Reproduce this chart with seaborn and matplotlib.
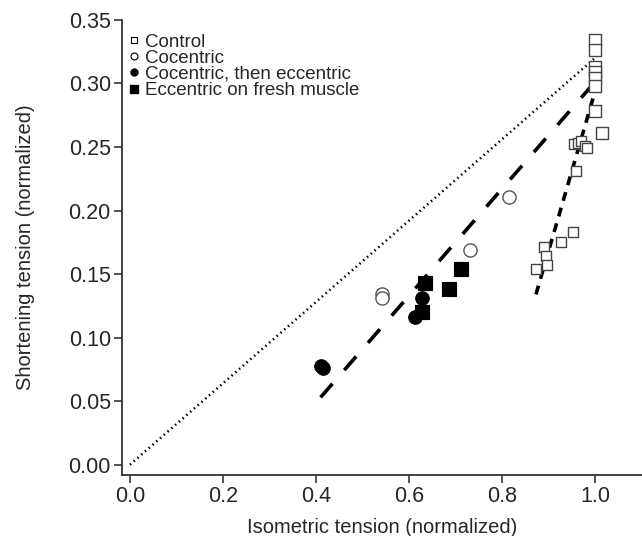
import numpy as np
import pandas as pd
import matplotlib
matplotlib.use("Agg")
import matplotlib.pyplot as plt
from matplotlib.lines import Line2D
import seaborn as sns

# data
ctrl_x = [1.000, 1.000, 1.000, 1.000, 1.000, 1.000, 1.000, 1.015, 0.955, 0.964,
          0.970, 0.979, 0.983, 0.959, 0.953, 0.927, 0.891, 0.895, 0.897, 0.873]
ctrl_y = [0.334, 0.326, 0.313, 0.309, 0.304, 0.298, 0.278, 0.261, 0.252, 0.253,
          0.255, 0.251, 0.249, 0.231, 0.183, 0.175, 0.171, 0.164, 0.157, 0.154]
conc_x = [0.815, 0.732, 0.543, 0.543]
conc_y = [0.211, 0.169, 0.134, 0.131]
conc_ecc_x = [0.411, 0.416, 0.614, 0.627]
conc_ecc_y = [0.078, 0.076, 0.116, 0.131]
fresh_x = [0.627, 0.635, 0.685, 0.712]
fresh_y = [0.120, 0.143, 0.138, 0.154]

# fitted lines (end points)
ratio_x = [0.0, 1.0]
ratio_y = [0.0, 0.32]
ecc_fit_x = [0.410, 0.990]
ecc_fit_y = [0.053, 0.297]
ctrl_fit_x = [0.873, 1.009]
ctrl_fit_y = [0.134, 0.305]

labels = ["Control", "Cocentric", "Cocentric, then eccentric", "Eccentric on fresh muscle"]

sns.set_theme(style="ticks")
plt.rcParams["font.family"] = ["Liberation Sans", "DejaVu Sans"]

fig = plt.figure(figsize=(6.42, 5.36), dpi=100)
ax = fig.add_axes([0.19, 0.114, 0.81, 0.849])

ctrl = pd.DataFrame({"x": ctrl_x, "y": ctrl_y})
big = ctrl["x"] >= 0.995
sns.scatterplot(data=ctrl[big], x="x", y="y", marker="s", s=75, facecolor="white",
                edgecolor="#444444", linewidth=1.0, ax=ax, zorder=3)
sns.scatterplot(data=ctrl[~big], x="x", y="y", marker="s", s=42, facecolor="white",
                edgecolor="#444444", linewidth=1.0, ax=ax, zorder=3)
sns.scatterplot(x=conc_x, y=conc_y, marker="o", s=90, facecolor="white",
                edgecolor="#555555", linewidth=1.0, ax=ax, zorder=3)
sns.scatterplot(x=conc_ecc_x, y=conc_ecc_y, marker="o", s=95, color="black",
                edgecolor="black", ax=ax, zorder=3)
sns.scatterplot(x=fresh_x, y=fresh_y, marker="s", s=110, color="black",
                edgecolor="black", ax=ax, zorder=3)

ax.plot(ratio_x, ratio_y, color="black", lw=1.8, linestyle=(0, (0.6, 1.4)), zorder=2)
ax.plot(ecc_fit_x, ecc_fit_y, color="black", lw=2.6, linestyle=(0, (5, 5)), zorder=2)
ax.plot(ctrl_fit_x, ctrl_fit_y, color="black", lw=2.6, linestyle=(0, (2.5, 2.0)), zorder=2)

ax.set_xlim(-0.017, 1.101)
ax.set_ylim(-0.008, 0.35)
ax.set_xticks([0.0, 0.2, 0.4, 0.6, 0.8, 1.0])
ax.set_yticks(np.arange(0, 0.351, 0.05))
ax.xaxis.set_major_formatter(matplotlib.ticker.FormatStrFormatter("%.1f"))
ax.yaxis.set_major_formatter(matplotlib.ticker.FormatStrFormatter("%.2f"))
ax.tick_params(labelsize=15.5, length=6, width=1.2, color="#333333", pad=2)
ax.set_xlabel("Isometric tension (normalized)", fontsize=14.5, labelpad=8)
ax.set_ylabel("Shortening tension (normalized)", fontsize=14.5, labelpad=24)
for side in ["left", "bottom"]:
    ax.spines[side].set_linewidth(1.3)
    ax.spines[side].set_color("#333333")
sns.despine(ax=ax)

handles = [
    Line2D([], [], ls="", marker="s", ms=5, mfc="white", mec="black", mew=0.8),
    Line2D([], [], ls="", marker="o", ms=5, mfc="white", mec="black", mew=0.8),
    Line2D([], [], ls="", marker="o", ms=5, mfc="black", mec="black"),
    Line2D([], [], ls="", marker="s", ms=6, mfc="black", mec="black"),
]
ax.legend(handles, labels, loc="upper left", bbox_to_anchor=(-0.012, 0.999), frameon=False,
          fontsize=13.5, handlelength=0.6, handletextpad=0.25, labelspacing=-0.05,
          borderaxespad=0.3)

fig.savefig("out.png", dpi=100)
